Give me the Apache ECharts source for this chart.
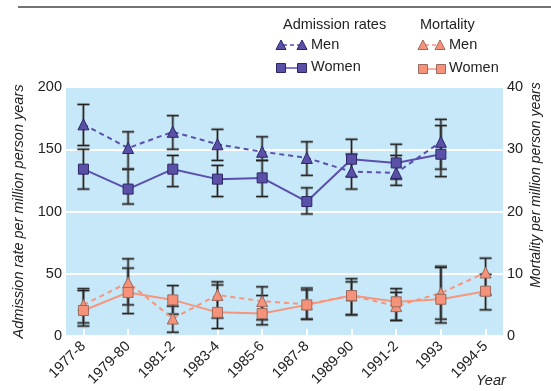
<!DOCTYPE html>
<html>
<head>
<meta charset="utf-8">
<script src="https://cdn.jsdelivr.net/npm/echarts@6/dist/echarts.min.js"></script>
<style>html,body{margin:0;padding:0;background:#fff}#c{width:551px;height:391px}</style>
</head>
<body>
<div id="c"></div>
<script>
var categories = ['1977-8','1979-80','1981-2','1983-4','1985-6','1987-8','1989-90','1991-2','1993','1994-5'];

var admMen      = [170, 151, 164, 154, 148, 143, 132, 131, 156, null];
var admMenLow   = [153, 134, 150, 141, 141, 129, 118, 121, 134, null];
var admMenHigh  = [186, 164, 177, 166, 160, 156, 146, 145, 174, null];
var admWomen     = [134, 118, 134, 126, 127, 108, 142, 139, 146, null];
var admWomenLow  = [118, 106, 120, 112, 112, 98, 128, 126, 128, null];
var admWomenHigh = [150, 134, 145, 137, 141, 119, 158, 154, 169, null];

var mortMen      = [5.0, 8.6, 2.8, 6.6, 5.6, 5.1, 6.5, 4.8, 6.9, 10.2];
var mortMenLow   = [2.1, 5.0, 0.6, 2.9, 2.6, 2.7, 3.4, 2.5, 2.7, 6.6];
var mortMenHigh  = [7.6, 12.4, 4.8, 8.7, 7.9, 7.7, 9.2, 7.6, 11.2, 12.5];
var mortWomen     = [4.1, 7.0, 5.8, 3.8, 3.6, 5.0, 6.5, 5.5, 5.9, 7.2];
var mortWomenLow  = [1.6, 3.6, 3.5, 1.2, 1.8, 2.7, 3.4, 2.5, 2.1, 4.2];
var mortWomenHigh = [7.3, 10.9, 8.1, 8.2, 6.5, 7.4, 8.7, 7.0, 11.0, 9.9];

var leftTicks = [0, 50, 100, 150, 200];
var rightTicks = [0, 10, 20, 30, 40];

var FONT = 'Liberation Sans, Arial, sans-serif';
var ADM = '#5a4fae', ADM_FILL = '#5b50a8', ADM_BORDER = '#2b2768';
var MORT = '#f5967d', MORT_FILL = '#f6927a', MORT_BORDER = '#9a6a5e';

function pts(arr) {
  return categories.map(function (c, i) { return [i, arr[i]]; }).filter(function (p) { return p[1] != null; });
}
function errData(lo, hi) {
  return categories.map(function (c, i) { return [i, lo[i], hi[i]]; }).filter(function (p) { return p[1] != null; });
}
function errRender(params, api) {
  var x = api.value(0);
  var a = api.coord([x, api.value(1)]);
  var b = api.coord([x, api.value(2)]);
  var w = 6;
  var shapes = [];
  [['rgba(90,90,90,0.5)', 3], ['#222', 1.1]].forEach(function (s) {
    var st = { stroke: s[0], lineWidth: s[1] };
    shapes.push({ type: 'line', shape: { x1: a[0], y1: a[1], x2: b[0], y2: b[1] }, style: st });
    shapes.push({ type: 'line', shape: { x1: a[0] - w, y1: a[1], x2: a[0] + w, y2: a[1] }, style: st });
    shapes.push({ type: 'line', shape: { x1: b[0] - w, y1: b[1], x2: b[0] + w, y2: b[1] }, style: st });
  });
  return { type: 'group', children: shapes };
}
function errSeries(lo, hi, yi) {
  return { type: 'custom', yAxisIndex: yi, renderItem: errRender, data: errData(lo, hi), z: 3, silent: true };
}
function lineSeries(name, arr, yi, dashed, symbol, color, fill, border, size) {
  return {
    name: name, type: 'line', yAxisIndex: yi, data: pts(arr), symbol: symbol, symbolSize: size,
    lineStyle: { color: color, width: 2, type: dashed ? [5, 4] : 'solid' },
    itemStyle: { color: fill, borderColor: border, borderWidth: 1 },
    z: 4, animation: false
  };
}

var chart = echarts.init(document.getElementById('c'), null, { renderer: 'canvas' });

function legendItems() {
  var g = [];
  function tri(x, y, fill, border) {
    g.push({ type: 'polygon', shape: { points: [[x - 5, y + 4.5], [x + 5, y + 4.5], [x, y - 5]] }, style: { fill: fill, stroke: border, lineWidth: 1 } });
  }
  function sq(x, y, fill, border) {
    g.push({ type: 'rect', shape: { x: x - 4.5, y: y - 4.5, width: 9, height: 9 }, style: { fill: fill, stroke: border, lineWidth: 1 } });
  }
  function ln(x1, x2, y, color, dashed) {
    g.push({ type: 'line', shape: { x1: x1, y1: y, x2: x2, y2: y }, style: { stroke: color, lineWidth: 1.5, lineDash: dashed ? [4, 3] : null } });
  }
  g.push({ type: 'line', shape: { x1: 18, y1: 7, x2: 551, y2: 7 }, style: { stroke: '#444', lineWidth: 1.5 } });
  // Admission rates
  g.push({ type: 'text', left: 283, top: 17, style: { text: 'Admission rates', font: '14.5px ' + FONT, fill: '#222' } });
  ln(283, 302, 45, ADM, true); tri(281, 45, ADM_FILL, ADM_BORDER); tri(302, 45, ADM_FILL, ADM_BORDER);
  g.push({ type: 'text', left: 311, top: 37, style: { text: 'Men', font: '14.5px ' + FONT, fill: '#222' } });
  ln(283, 302, 68, ADM, false); sq(281, 68, ADM_FILL, ADM_BORDER); sq(302, 68, ADM_FILL, ADM_BORDER);
  g.push({ type: 'text', left: 311, top: 59, style: { text: 'Women', font: '14.5px ' + FONT, fill: '#222' } });
  // Mortality
  g.push({ type: 'text', left: 420, top: 17, style: { text: 'Mortality', font: '14.5px ' + FONT, fill: '#222' } });
  ln(425, 440, 45, MORT, true); tri(423, 45, MORT_FILL, MORT_BORDER); tri(440, 45, MORT_FILL, MORT_BORDER);
  g.push({ type: 'text', left: 449, top: 37, style: { text: 'Men', font: '14.5px ' + FONT, fill: '#222' } });
  ln(425, 440, 69, MORT, false); sq(423, 69, MORT_FILL, MORT_BORDER); sq(441, 69, MORT_FILL, MORT_BORDER);
  g.push({ type: 'text', left: 449, top: 60, style: { text: 'Women', font: '14.5px ' + FONT, fill: '#222' } });
  // Right axis title
  g.push({ type: 'text', x: 536, y: 185, rotation: Math.PI / 2,
    style: { text: 'Mortality per million person years', font: 'italic 14px ' + FONT, fill: '#222', align: 'center', verticalAlign: 'middle' } });
  // Year
  g.push({ type: 'text', left: 476, top: 373, style: { text: 'Year', font: 'italic 14.5px ' + FONT, fill: '#222' } });
  return g;
}

var option = {
  animation: false,
  backgroundColor: '#ffffff',
  textStyle: { fontFamily: FONT },
  grid: { left: 66, right: 48, top: 87, bottom: 55, show: true, backgroundColor: '#c6e8f8', borderWidth: 0 },
  xAxis: {
    type: 'value', min: -0.39, max: 9.39,
    axisLine: { show: false },
    splitLine: { show: false },
    axisTick: { show: true, inside: true, length: 7, lineStyle: { color: '#ffffff', width: 2 }, customValues: categories.map(function (c, i) { return i; }) },
    axisLabel: {
      customValues: categories.map(function (c, i) { return i; }),
      formatter: function (v) { return categories[Math.round(v)]; },
      rotate: 45, fontSize: 14.5, color: '#222', margin: 8, fontFamily: FONT
    }
  },
  yAxis: [
    {
      type: 'value', min: 0, max: 200, interval: 50, position: 'left',
      name: 'Admission rate per million person years', nameLocation: 'middle', nameGap: 31,
      nameTextStyle: { fontStyle: 'italic', fontSize: 14.5, color: '#222', fontFamily: FONT },
      axisLine: { show: false }, axisTick: { show: false },
      axisLabel: { fontSize: 14.5, color: '#222', margin: 4, fontFamily: FONT, customValues: leftTicks },
      splitLine: { show: true, lineStyle: { color: '#ffffff', width: 2 } }
    },
    {
      type: 'value', min: 0, max: 40, interval: 10, position: 'right',
      axisLine: { show: false }, axisTick: { show: false },
      axisLabel: { fontSize: 14.5, color: '#222', margin: 4, fontFamily: FONT, customValues: rightTicks },
      splitLine: { show: false }
    }
  ],
  graphic: legendItems(),
  series: [
    errSeries(admMenLow, admMenHigh, 0),
    errSeries(admWomenLow, admWomenHigh, 0),
    errSeries(mortMenLow, mortMenHigh, 1),
    errSeries(mortWomenLow, mortWomenHigh, 1),
    lineSeries('Admission Men', admMen, 0, true, 'triangle', ADM, ADM_FILL, ADM_BORDER, 11),
    lineSeries('Admission Women', admWomen, 0, false, 'rect', ADM, ADM_FILL, ADM_BORDER, 10),
    lineSeries('Mortality Men', mortMen, 1, true, 'triangle', MORT, MORT_FILL, MORT_BORDER, 11),
    lineSeries('Mortality Women', mortWomen, 1, false, 'rect', MORT, MORT_FILL, MORT_BORDER, 10)
  ]
};
chart.setOption(option);
</script>
</body>
</html>
